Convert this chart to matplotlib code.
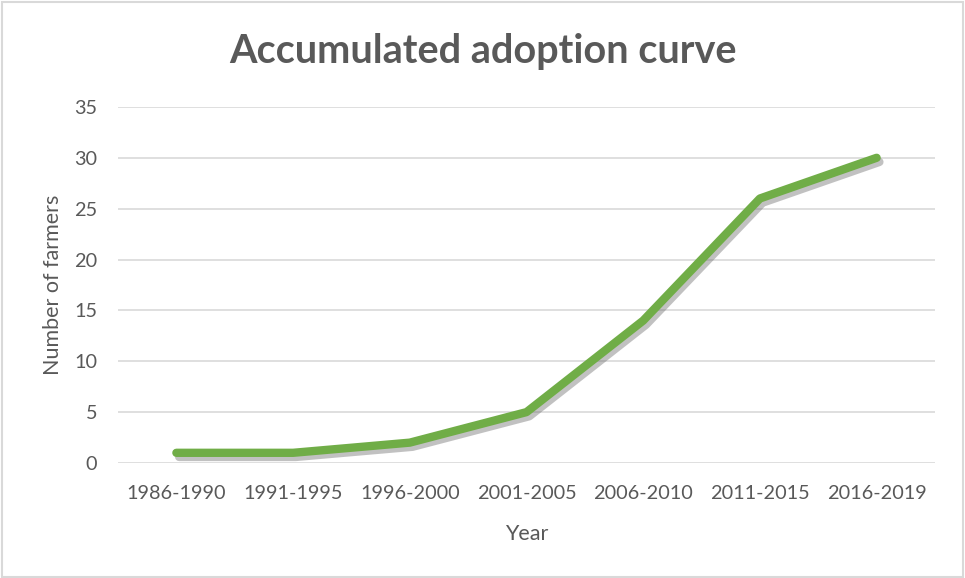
import matplotlib
matplotlib.use('Agg')
from matplotlib import pyplot as plt
import matplotlib.patheffects as pe
from matplotlib.patches import Rectangle

periods = ['1986-1990', '1991-1995', '1996-2000', '2001-2005', '2006-2010', '2011-2015', '2016-2019']
farmers = [1, 1, 2, 5, 14, 26, 30]

plt.rcParams['font.family'] = ['Lato', 'DejaVu Sans']
txt = '#595959'

fig = plt.figure(figsize=(9.65, 5.78), dpi=100)
ax = fig.add_axes([0.1223, 0.199, 0.8466, 0.616])

x = range(len(periods))
ax.plot(x, farmers, color='#70AD47', lw=6, solid_capstyle='round', solid_joinstyle='round',
        path_effects=[pe.SimpleLineShadow(offset=(2, -3), shadow_color='#666666', alpha=0.4),
                      pe.Normal()])

ax.set_xlim(-0.5, len(periods) - 0.5)
ax.set_ylim(0, 35)
ax.set_yticks(range(0, 36, 5))
ax.set_xticks(list(x))
ax.set_xticklabels(periods)
ax.grid(axis='y', color='#D9D9D9', lw=1.2)
ax.set_axisbelow(True)
for s in ax.spines.values():
    s.set_visible(False)
ax.tick_params(length=0, labelsize=14.3, colors=txt, pad=16)
ax.tick_params(axis='y', pad=15)

ax.set_xlabel('Year', fontsize=15.5, color=txt, labelpad=16)
ax.set_ylabel('Number of farmers', fontsize=15.5, color=txt, labelpad=8)
fig.text(0.5, 0.911, 'Accumulated adoption curve', fontsize=28.5, fontweight='bold',
         color=txt, ha='center', va='center')

fig.patches.append(Rectangle((0.002, 0.002), 0.996, 0.995, transform=fig.transFigure,
                             fill=False, edgecolor='#D9D9D9', lw=1.5))

fig.savefig('out.png', dpi=100)
